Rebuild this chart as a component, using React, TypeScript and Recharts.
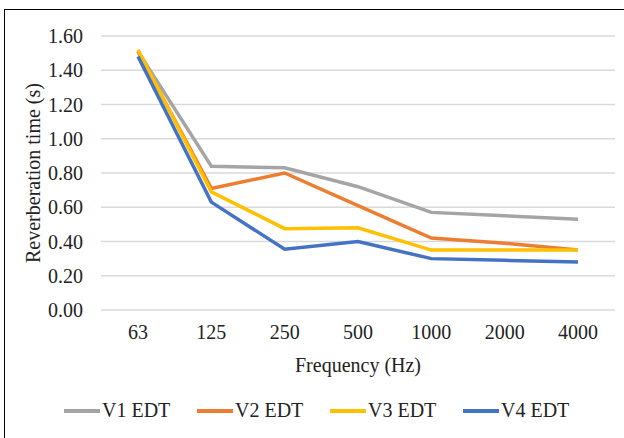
import React from 'react';
import { LineChart, Line, XAxis, YAxis, CartesianGrid, Legend } from 'recharts';

const frequencies = ['63', '125', '250', '500', '1000', '2000', '4000'];
const v1Edt = [1.51, 0.84, 0.83, 0.72, 0.57, 0.55, 0.53];
const v2Edt = [1.51, 0.71, 0.8, 0.61, 0.42, 0.39, 0.35];
const v3Edt = [1.52, 0.69, 0.475, 0.48, 0.35, 0.35, 0.35];
const v4Edt = [1.48, 0.63, 0.355, 0.4, 0.3, 0.29, 0.28];
const yTicks = [0, 0.2, 0.4, 0.6, 0.8, 1.0, 1.2, 1.4, 1.6];

const seriesList = [
  { key: 'v1', name: 'V1 EDT', color: '#a5a5a5', values: v1Edt },
  { key: 'v2', name: 'V2 EDT', color: '#ed7d31', values: v2Edt },
  { key: 'v3', name: 'V3 EDT', color: '#ffc000', values: v3Edt },
  { key: 'v4', name: 'V4 EDT', color: '#4472c4', values: v4Edt },
];

const data = frequencies.map((f, i) => {
  const row: Record<string, any> = { freq: f };
  seriesList.forEach((s) => {
    row[s.key] = s.values[i];
  });
  return row;
});

const FONT = "'Liberation Serif', 'DejaVu Serif', serif";

const LegendContent = () => (
  <div style={{ display: 'flex', justifyContent: 'flex-start', paddingLeft: 64, fontFamily: FONT, fontSize: 20, color: '#222' }}>
    {seriesList.map((s) => (
      <div key={s.key} style={{ display: 'flex', alignItems: 'center', width: 133 }}>
        <span style={{ display: 'inline-block', width: 36, height: 4, background: s.color, marginRight: 2 }} />
        <span>{s.name}</span>
      </div>
    ))}
  </div>
);

export default function App() {
  return (
    <div style={{ position: 'absolute', left: 0, top: 0, width: 624, height: 438, overflow: 'hidden', background: '#fff', fontFamily: FONT }}>
      <div style={{ position: 'absolute', left: 4, top: 9, width: 700, height: 500, borderTop: '1.5px solid #000', borderLeft: '1.5px solid #000' }} />
      <LineChart
        width={624}
        height={438}
        data={data}
        margin={{ top: 36, right: 9, bottom: 68, left: 0 }}
      >
        <CartesianGrid horizontal vertical={false} stroke="#d9d9d9" strokeWidth={1.5} />
        <XAxis
          dataKey="freq"
          axisLine={false}
          tickLine={false}
          tickMargin={9}
          height={60}
          padding={{ left: 37, right: 37 }}
          tick={{ fill: '#222', fontSize: 20, fontFamily: FONT }}
          label={{ value: 'Frequency (Hz)', position: 'insideTop', offset: 48, fill: '#222', fontSize: 20, fontFamily: FONT }}
        />
        <YAxis
          domain={[0, 1.6]}
          ticks={yTicks}
          axisLine={false}
          tickLine={false}
          tickMargin={12}
          width={101}
          interval={0}
          tickFormatter={(v: number) => v.toFixed(2)}
          tick={{ fill: '#222', fontSize: 20, fontFamily: FONT }}
          label={{ value: 'Reverberation time (s)', angle: -90, position: 'center', dx: -18, dy: 0, fill: '#222', fontSize: 20, fontFamily: FONT }}
        />
        <Legend
          layout="horizontal"
          verticalAlign="middle"
          align="center"
          content={<LegendContent />}
          wrapperStyle={{ top: 399, left: 0, width: 624 }}
        />
        {seriesList.map((s) => (
          <Line
            key={s.key}
            type="linear"
            dataKey={s.key}
            name={s.name}
            stroke={s.color}
            strokeWidth={3.5}
            dot={false}
            activeDot={false}
            isAnimationActive={false}
          />
        ))}
      </LineChart>
    </div>
  );
}
